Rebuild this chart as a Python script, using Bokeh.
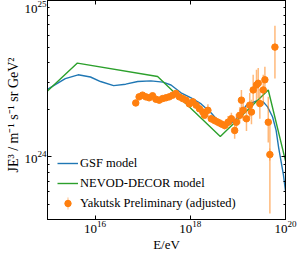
import numpy as np
from bokeh.plotting import figure
from bokeh.models import (ColumnDataSource, LogAxis, FixedTicker, Legend, LegendItem, Range1d, Title)
from bokeh.embed import file_html
from bokeh.resources import INLINE

# ---------------- data (log10 values) ----------------
gsf_log10_E = [15.00, 15.163, 15.374, 15.643, 15.903, 16.114, 16.389, 16.643, 16.896,
               17.171, 17.425, 17.594, 17.805, 18.017, 18.228, 18.440, 18.609, 18.715,
               18.822, 18.968, 19.180, 19.391, 19.533, 19.624, 19.729, 19.803, 19.856,
               19.956, 20.0]
gsf_log10_JE3 = [24.432, 24.462, 24.501, 24.525, 24.511, 24.482, 24.456, 24.465, 24.482,
                 24.486, 24.478, 24.460, 24.410, 24.378, 24.339, 24.281, 24.222, 24.196,
                 24.206, 24.244, 24.331, 24.358, 24.352, 24.320, 24.255, 24.170, 24.060,
                 23.887, 23.782]

nevod_log10_E = [15.0, 15.628, 17.313, 18.630, 19.638, 20.0]
nevod_log10_JE3 = [24.421, 24.600, 24.514, 24.130, 24.428, 23.975]

yak_log10_E = [16.854, 16.924, 16.996, 17.066, 17.135, 17.207, 17.277, 17.347, 17.419,
               17.488, 17.558, 17.630, 17.700, 17.770, 17.841, 17.911, 17.981, 18.053,
               18.123, 18.192, 18.264, 18.298, 18.370, 18.440, 18.510, 18.581, 18.651,
               18.721, 18.793, 18.863, 18.932, 18.968, 19.038, 19.074, 19.110, 19.180,
               19.249, 19.285, 19.321, 19.391, 19.427, 19.461, 19.533, 19.567, 19.638,
               19.672, 19.778]
yak_log10_JE3 = [24.345, 24.384, 24.395, 24.384, 24.378, 24.391, 24.369, 24.363, 24.373,
                 24.378, 24.384, 24.395, 24.406, 24.384, 24.373, 24.363, 24.339, 24.352,
                 24.331, 24.308, 24.287, 24.266, 24.298, 24.244, 24.233, 24.222, 24.211,
                 24.201, 24.222, 24.244, 24.169, 24.222, 24.266, 24.363, 24.298, 24.244,
                 24.331, 24.287, 24.428, 24.460, 24.471, 24.341, 24.428, 24.493, 24.222,
                 24.015, 24.702]
yak_err_lo_dex = [0.010] * 17 + [0.019] * 5 + [0.039] + [0.026] * 5 + [0.039] * 2 + \
                 [0.052] * 3 + [0.065] * 2 + [0.078] * 3 + [0.097] * 5 + [0.084] + \
                 [0.130, 0.376, 0.201]
yak_err_hi_dex = [0.010] * 17 + [0.019] * 5 + [0.039] + [0.026] * 5 + [0.039] * 2 + \
                 [0.052] * 3 + [0.065] * 2 + [0.078] * 3 + [0.097] * 5 + [0.084] + \
                 [0.162, 0.207, 0.136]

x_ticks = [1e16, 1e18, 1e20]
y_major_ticks = [1e24, 1e25]
y_minor_ticks = [m * 1e23 for m in range(4, 10)] + [m * 1e24 for m in range(2, 10)]

x_label = "E/eV"
y_label = "JE\u00b3 / m\u207b\u00b9 s\u207b\u00b9 sr GeV\u00b2"
series_names = ["GSF model", "NEVOD-DECOR model", "Yakutsk Preliminary (adjusted)"]

# ---------------- derived ----------------
gsf = ColumnDataSource(dict(x=10 ** np.array(gsf_log10_E), y=10 ** np.array(gsf_log10_JE3)))
nevod = ColumnDataSource(dict(x=10 ** np.array(nevod_log10_E), y=10 ** np.array(nevod_log10_JE3)))
ly = np.array(yak_log10_JE3)
yx = 10 ** np.array(yak_log10_E)
yak = ColumnDataSource(dict(
    x=yx, y=10 ** ly,
    lo=10 ** (ly - np.array(yak_err_lo_dex)), hi=10 ** (ly + np.array(yak_err_hi_dex))))
# the point with the longest error bar carries the legend's bar glyph (hidden inside its bar)
i_big = int(np.argmax(np.array(yak_err_lo_dex) + np.array(yak_err_hi_dex)))
yak_key = ColumnDataSource(dict(x=[yx[i_big]], y=[10 ** ly[i_big]]))

BLUE, ORANGE, GREEN = "#1f77b4", "#ff7f0e", "#2ca02c"
FONT = "Liberation Serif"

p = figure(width=299, height=254, x_axis_type="log", y_axis_type="log",
           x_range=Range1d(1e15, 1e20), y_range=Range1d(10 ** 23.6, 1e25),
           output_backend="svg", toolbar_location=None,
           min_border_left=47, min_border_right=14, min_border_top=0, min_border_bottom=33)
p.xgrid.visible = False
p.ygrid.visible = False
p.outline_line_color = "black"
p.outline_line_alpha = 1
p.outline_line_width = 1
p.background_fill_color = "white"
p.border_fill_color = "white"

r_gsf = p.line("x", "y", source=gsf, line_color=BLUE, line_width=1.4)
r_nev = p.line("x", "y", source=nevod, line_color=GREEN, line_width=1.4)
r_err = p.segment(x0="x", y0="lo", x1="x", y1="hi", source=yak,
                  line_color=ORANGE, line_alpha=0.55, line_width=1.5)
r_leg_bar = p.ellipse(x="x", y="y", source=yak_key, width=1.5, height=13,
                      width_units="screen", height_units="screen",
                      fill_color=ORANGE, fill_alpha=0.55, line_color=None)
r_pts = p.scatter("x", "y", source=yak, size=6.5, marker="circle",
                  fill_color=ORANGE, line_color=ORANGE)


def style_axis(ax, labels=True):
    ax.axis_line_color = "black"
    ax.major_tick_line_color = "black"
    ax.minor_tick_line_color = "black"
    ax.major_tick_in = 4
    ax.major_tick_out = 0
    ax.minor_tick_in = 2
    ax.minor_tick_out = 0
    ax.major_label_text_font = FONT
    ax.major_label_text_font_size = "13px"
    ax.major_label_text_color = "black"
    ax.axis_label_text_font = FONT
    ax.axis_label_text_font_size = "13px"
    ax.axis_label_text_font_style = "normal"
    ax.axis_label_text_color = "black"
    ax.major_label_standoff = 1
    ax.axis_label_standoff = 1
    if not labels:
        ax.major_label_text_font_size = "1px"
        ax.major_label_text_alpha = 0
        ax.major_label_standoff = 0
        ax.axis_label_standoff = 0


xt = FixedTicker(ticks=x_ticks, minor_ticks=[])
yt = FixedTicker(ticks=y_major_ticks, minor_ticks=y_minor_ticks)

p.xaxis.ticker = xt
p.yaxis.ticker = yt
style_axis(p.xaxis[0])
style_axis(p.yaxis[0])
p.xaxis.axis_label = x_label

# y label as a side title, starting a little above the frame's bottom
ytitle = Title(text=y_label, align="left", offset=47, text_font=FONT, text_font_size="14px",
               text_font_style="normal", text_color="black", standoff=2)
p.add_layout(ytitle, "left")

top = LogAxis(ticker=FixedTicker(ticks=x_ticks, minor_ticks=[]))
style_axis(top, labels=False)
p.add_layout(top, "above")
right = LogAxis(ticker=FixedTicker(ticks=y_major_ticks, minor_ticks=y_minor_ticks))
style_axis(right, labels=False)
p.add_layout(right, "right")

legend = Legend(items=[
    LegendItem(label=series_names[0], renderers=[r_gsf]),
    LegendItem(label=series_names[1], renderers=[r_nev]),
    LegendItem(label=series_names[2], renderers=[r_leg_bar, r_pts]),
], location=(10, 6))
legend.border_line_color = None
legend.background_fill_alpha = 0
legend.label_text_font = FONT
legend.label_text_font_size = "12.5px"
legend.label_text_color = "black"
legend.spacing = 0
legend.padding = 0
legend.margin = 0
legend.glyph_width = 21
legend.glyph_height = 16
legend.label_height = 20
legend.label_standoff = 2
p.add_layout(legend, "center")

open("out.html", "w").write(file_html(p, INLINE))
